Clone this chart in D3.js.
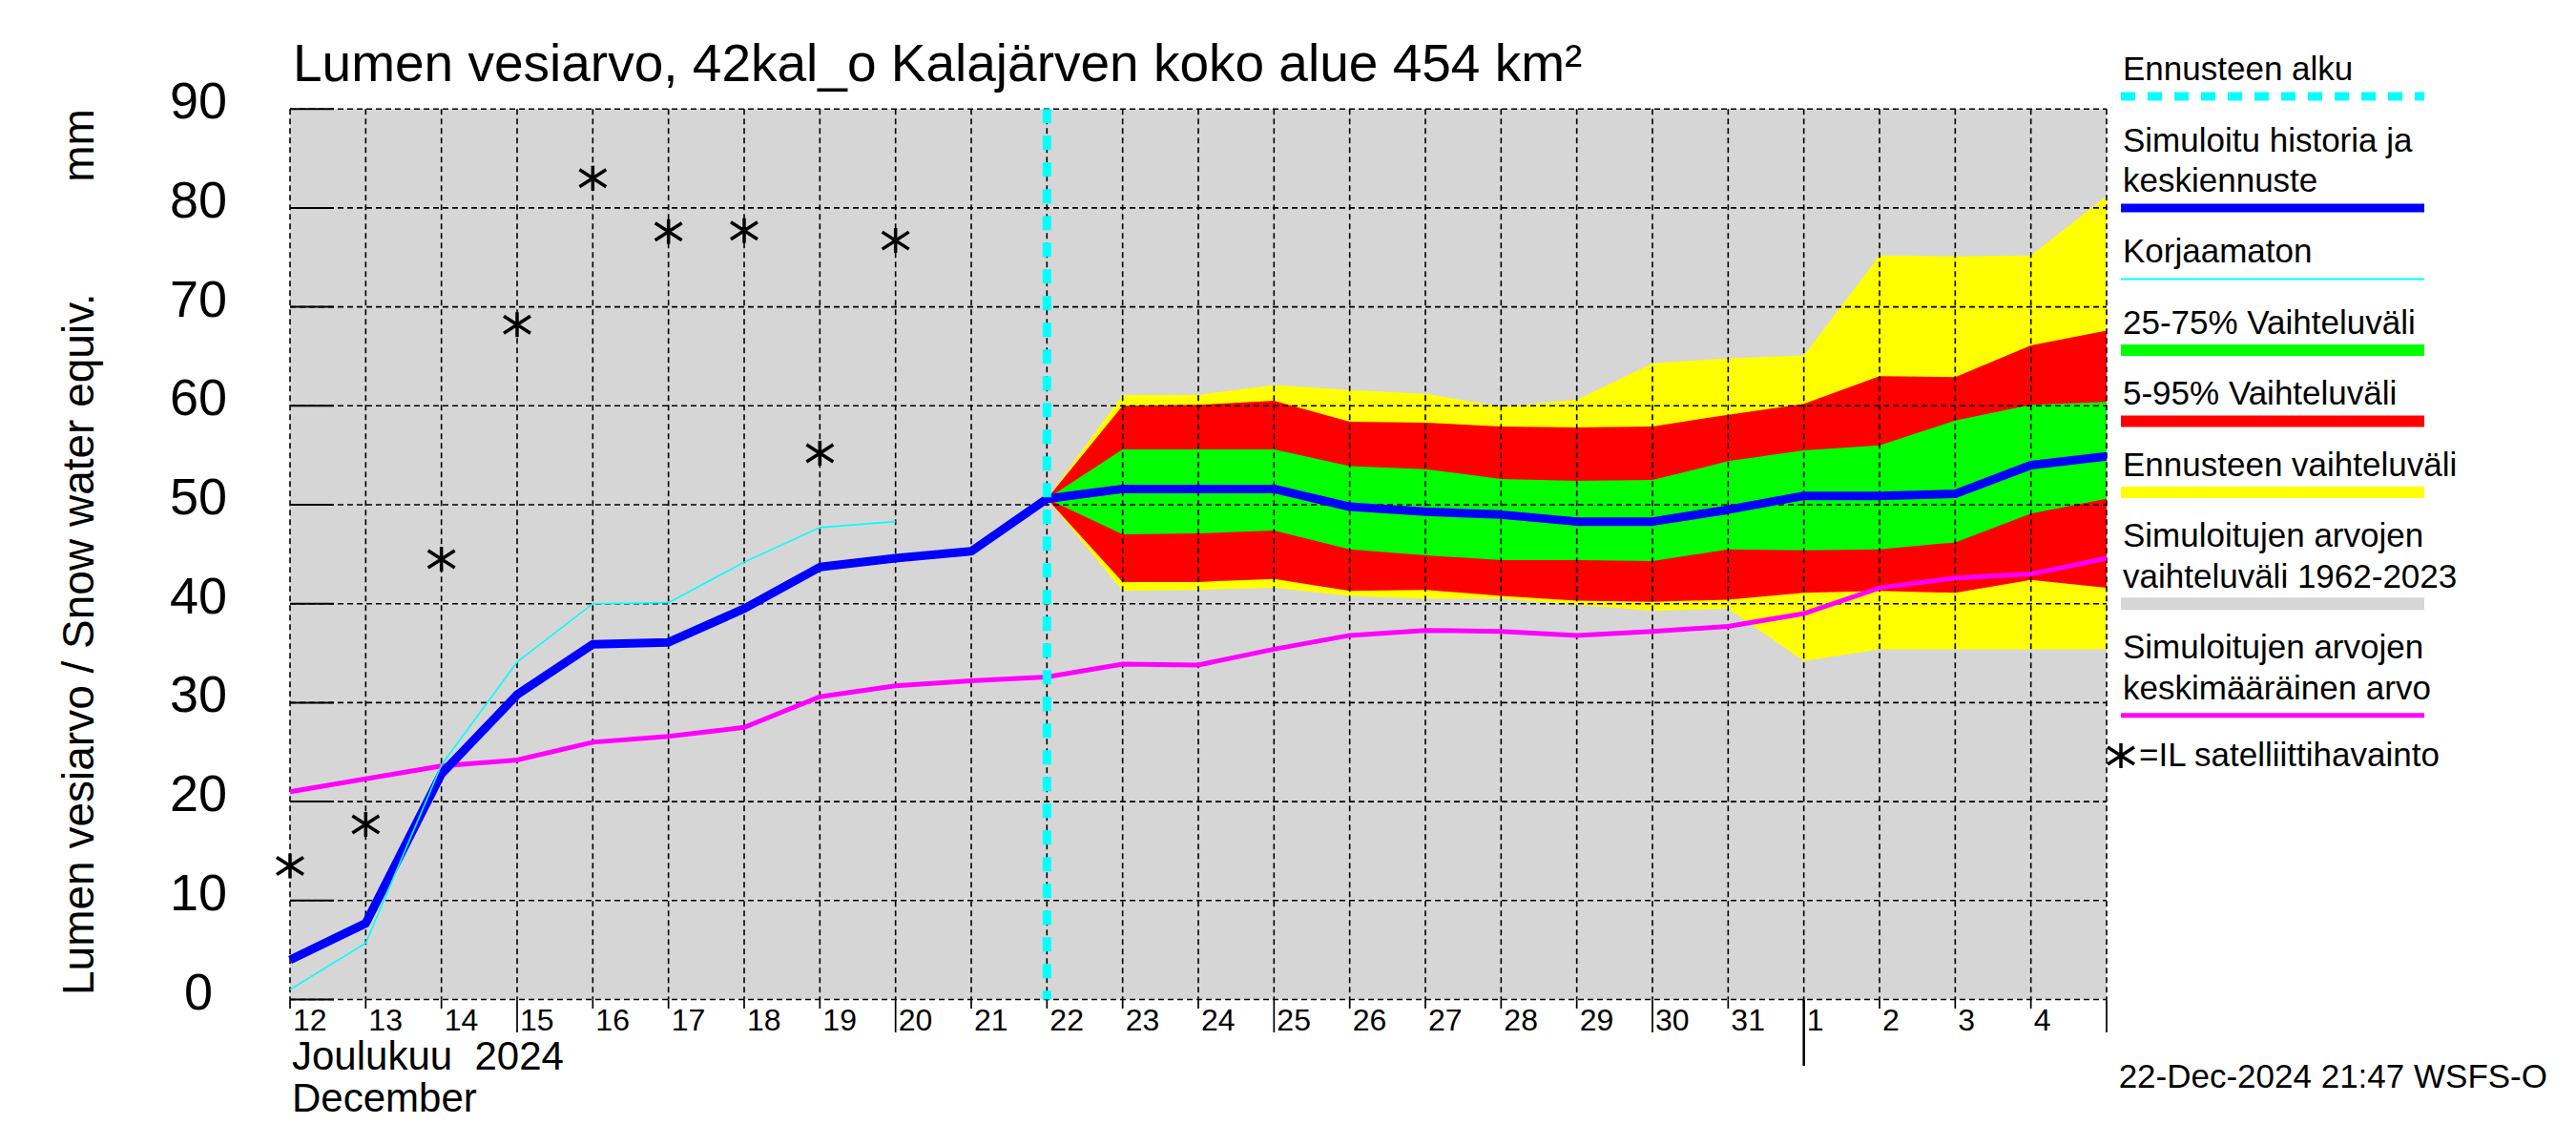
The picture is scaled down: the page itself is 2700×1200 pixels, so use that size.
<!DOCTYPE html>
<html><head><meta charset="utf-8">
<script src="https://cdn.jsdelivr.net/npm/d3@7"></script>
<style>
html,body{margin:0;padding:0;background:#fff;}
svg{display:block;font-family:"Liberation Sans",Arial,Helvetica,sans-serif;}
</style></head>
<body>
<svg id="c" width="2700" height="1200"></svg>
<script>
// ---- data ----
const startDate = "2024-12-12";
const dayLabels = ["12","13","14","15","16","17","18","19","20","21","22","23","24","25","26","27","28","29","30","31","1","2","3","4"];
const yTicks = [0,10,20,30,40,50,60,70,80,90];
// simulated history + median forecast, Dec 12 .. Jan 5
const simulated = [4.0,7.7,22.8,30.8,35.9,36.1,39.5,43.7,44.6,45.3,50.6,51.6,51.6,51.6,49.8,49.3,49.0,48.3,48.3,49.5,50.9,50.9,51.1,54.0,54.9];
// uncorrected, Dec 12 .. Dec 20
const uncorrected = [1.0,5.7,23.7,34.1,40.0,40.1,44.2,47.7,48.3];
// mean of simulated values 1962-2023, Dec 12 .. Jan 5
const meanSim = [21.0,22.3,23.6,24.2,26.0,26.6,27.5,30.6,31.7,32.2,32.6,33.9,33.8,35.4,36.8,37.3,37.2,36.8,37.2,37.7,39.0,41.6,42.6,43.0,44.6];
// forecast bands Dec 22 .. Jan 5
const fcMin = [50.6,41.3,41.4,41.6,40.8,40.5,40.5,39.9,39.3,39.5,34.2,35.4,35.4,35.4,35.4];
const p5    = [50.6,42.2,42.2,42.5,41.3,41.4,40.8,40.3,40.2,40.4,41.1,41.3,41.1,42.4,41.6];
const p25   = [50.6,47.0,47.1,47.4,45.5,44.9,44.4,44.4,44.3,45.5,45.4,45.5,46.2,49.1,50.6];
const p75   = [50.6,55.6,55.6,55.6,53.9,53.6,52.6,52.4,52.5,54.4,55.5,56.0,58.5,60.1,60.4];
const p95   = [50.6,60.0,60.1,60.5,58.4,58.3,57.9,57.8,57.9,59.1,60.2,63.0,62.9,66.1,67.6];
const fcMax = [50.6,61.1,61.1,62.1,61.6,61.2,59.9,60.6,64.3,64.8,65.1,75.2,75.1,75.2,81.2];
// historical simulated range 1962-2023 (covers whole plot)
const histMin = [0,0];
const histMax = [90,90];
// satellite observations Dec 12 .. Dec 20
const satellite = [13.5,17.7,44.5,68.2,83.0,77.6,77.7,55.2,76.7];
const forecastStartIndex = 10;

const title = "Lumen vesiarvo, 42kal_o Kalajärven koko alue 454 km²";
const yTitle = "Lumen vesiarvo / Snow water equiv.";
const yUnit = "mm";
const monthFi = "Joulukuu  2024";
const monthEn = "December";
const stamp = "22-Dec-2024 21:47 WSFS-O";
const legendItems = [
  {lines:["Ennusteen alku"], color:"#00ffff", w:9, dash:"15,13"},
  {lines:["Simuloitu historia ja","keskiennuste"], color:"#0000ff", w:9},
  {lines:["Korjaamaton"], color:"#00ffff", w:2},
  {lines:["25-75% Vaihteluväli"], color:"#00ff00", w:12},
  {lines:["5-95% Vaihteluväli"], color:"#ff0000", w:12},
  {lines:["Ennusteen vaihteluväli"], color:"#ffff00", w:12},
  {lines:["Simuloitujen arvojen","vaihteluväli 1962-2023"], color:"#d6d6d6", w:13},
  {lines:["Simuloitujen arvojen","keskimääräinen arvo"], color:"#ff00ff", w:5},
];
const starLegend = "=IL satelliittihavainto";

// ---- layout ----
const L = 304, R = 2208, T = 114.2, B = 1047.5;
const svg = d3.select("#c");
const t0 = new Date(startDate + "T00:00:00Z");
const dayDate = i => new Date(t0.getTime() + i*86400000);
const x = d3.scaleUtc().domain([dayDate(0), dayDate(24)]).range([L, R]);
const y = d3.scaleLinear().domain([0, 90]).range([B, T]);

svg.append("rect").attr("width",2700).attr("height",1200).attr("fill","#fff");
// grey historical band
svg.append("path")
  .datum(histMin.map((v,i)=>({i, lo:v, hi:histMax[i]})))
  .attr("fill","#d6d6d6")
  .attr("d", d3.area().x(d=>x(dayDate(d.i*24))).y0(d=>y(d.lo)).y1(d=>y(d.hi)));

// forecast bands
const fcData = fcMin.map((v,i)=>({d:dayDate(forecastStartIndex+i), mn:v, p5:p5[i], p25:p25[i], p75:p75[i], p95:p95[i], mx:fcMax[i]}));
const band = (lo,hi,col)=>svg.append("path").datum(fcData).attr("fill",col)
  .attr("d", d3.area().x(d=>x(d.d)).y0(d=>y(d[lo])).y1(d=>y(d[hi])));
band("mn","mx","#ffff00");
band("p5","p95","#ff0000");
band("p25","p75","#00ff00");

// grid
const days = d3.range(0,25).map(dayDate);
const grid = svg.append("g").attr("stroke","#000").attr("stroke-width",1.6).attr("stroke-dasharray","6,4").attr("fill","none");
days.forEach(d=>grid.append("line").attr("x1",x(d)).attr("x2",x(d)).attr("y1",T).attr("y2",B));
yTicks.forEach(v=>grid.append("line").attr("x1",L).attr("x2",R).attr("y1",y(v)).attr("y2",y(v)));
// y ticks (solid inward)
yTicks.forEach(v=>svg.append("line").attr("x1",L).attr("x2",L+46).attr("y1",y(v)).attr("y2",y(v)).attr("stroke","#000").attr("stroke-width",2));
// y labels
yTicks.forEach(v=>svg.append("text").attr("x",208).attr("y",y(v)+10).attr("text-anchor","middle")
  .attr("font-size",54).attr("fill","#000").text(v));

// lines
const line = d3.line().x(d=>x(d.d)).y(d=>y(d.v));
svg.append("path").datum(meanSim.map((v,i)=>({d:dayDate(i),v})))
  .attr("fill","none").attr("stroke","#ff00ff").attr("stroke-width",5).attr("d",line);
svg.append("path").datum(simulated.map((v,i)=>({d:dayDate(i),v})))
  .attr("fill","none").attr("stroke","#0000ff").attr("stroke-width",9).attr("stroke-linejoin","round").attr("d",line);
svg.append("path").datum(uncorrected.map((v,i)=>({d:dayDate(i),v})))
  .attr("fill","none").attr("stroke","#00ffff").attr("stroke-width",1.6).attr("d",line);

// forecast start line
svg.append("line").attr("x1",x(dayDate(forecastStartIndex))).attr("x2",x(dayDate(forecastStartIndex)))
  .attr("y1",T).attr("y2",B).attr("stroke","#00ffff").attr("stroke-width",9).attr("stroke-dasharray","15,13");

// stars
const starPath = "M0,-13L0,13M-14,-9L14,9M-14,9L14,-9";
satellite.forEach((v,i)=>svg.append("path").attr("d",starPath)
  .attr("transform",`translate(${x(dayDate(i))},${y(v)})`).attr("stroke","#000").attr("stroke-width",3.5).attr("fill","none"));

// x axis ticks and labels
days.forEach((d,i)=>{
  const dom = d.getUTCDate();
  const long = (dom % 5 === 0);
  svg.append("line").attr("x1",x(d)).attr("x2",x(d)).attr("y1",B).attr("y2",long?1082:1057)
    .attr("stroke","#000").attr("stroke-width",1.7);
});
dayLabels.forEach((lab,i)=>svg.append("text").attr("x",x(dayDate(i))+3).attr("y",1080)
  .attr("font-size",32).attr("fill","#000").text(lab));
// month separator
const jan1 = new Date("2025-01-01T00:00:00Z");
svg.append("line").attr("x1",x(jan1)).attr("x2",x(jan1)).attr("y1",B).attr("y2",1117).attr("stroke","#000").attr("stroke-width",2.5);
svg.append("text").attr("x",306).attr("y",1121).attr("font-size",42).attr("xml:space","preserve").style("white-space","pre").text(monthFi);
svg.append("text").attr("x",306).attr("y",1165).attr("font-size",42).text(monthEn);

// title
svg.append("text").attr("x",307).attr("y",85).attr("font-size",55).text(title);
// y title
svg.append("text").attr("transform","translate(98,1043) rotate(-90)").attr("font-size",46).text(yTitle);
svg.append("text").attr("transform",`translate(98,${T}) rotate(-90)`).attr("text-anchor","end").attr("font-size",46).text(yUnit);

// stamp
svg.append("text").attr("x",2670).attr("y",1140).attr("text-anchor","end").attr("font-size",35).text(stamp);

// legend
const lx1 = 2223, lx2 = 2541;
let ly = 84;
legendItems.forEach(it=>{
  it.lines.forEach((s,k)=>{
    svg.append("text").attr("x",2225).attr("y",ly + k*42.4).attr("font-size",35).text(s);
  });
  const lineY = ly + (it.lines.length-1)*42.4 + 17;
  const ln = svg.append("line").attr("x1",lx1).attr("x2",lx2).attr("y1",lineY).attr("y2",lineY)
    .attr("stroke",it.color).attr("stroke-width",it.w);
  if (it.dash) ln.attr("stroke-dasharray",it.dash);
  ly = lineY + 57.5;
});
svg.append("path").attr("d",starPath).attr("transform","translate(2223,792)").attr("stroke","#000").attr("stroke-width",3.5).attr("fill","none");
svg.append("text").attr("x",2242).attr("y",803).attr("font-size",35).text(starLegend);
</script>
</body></html>
